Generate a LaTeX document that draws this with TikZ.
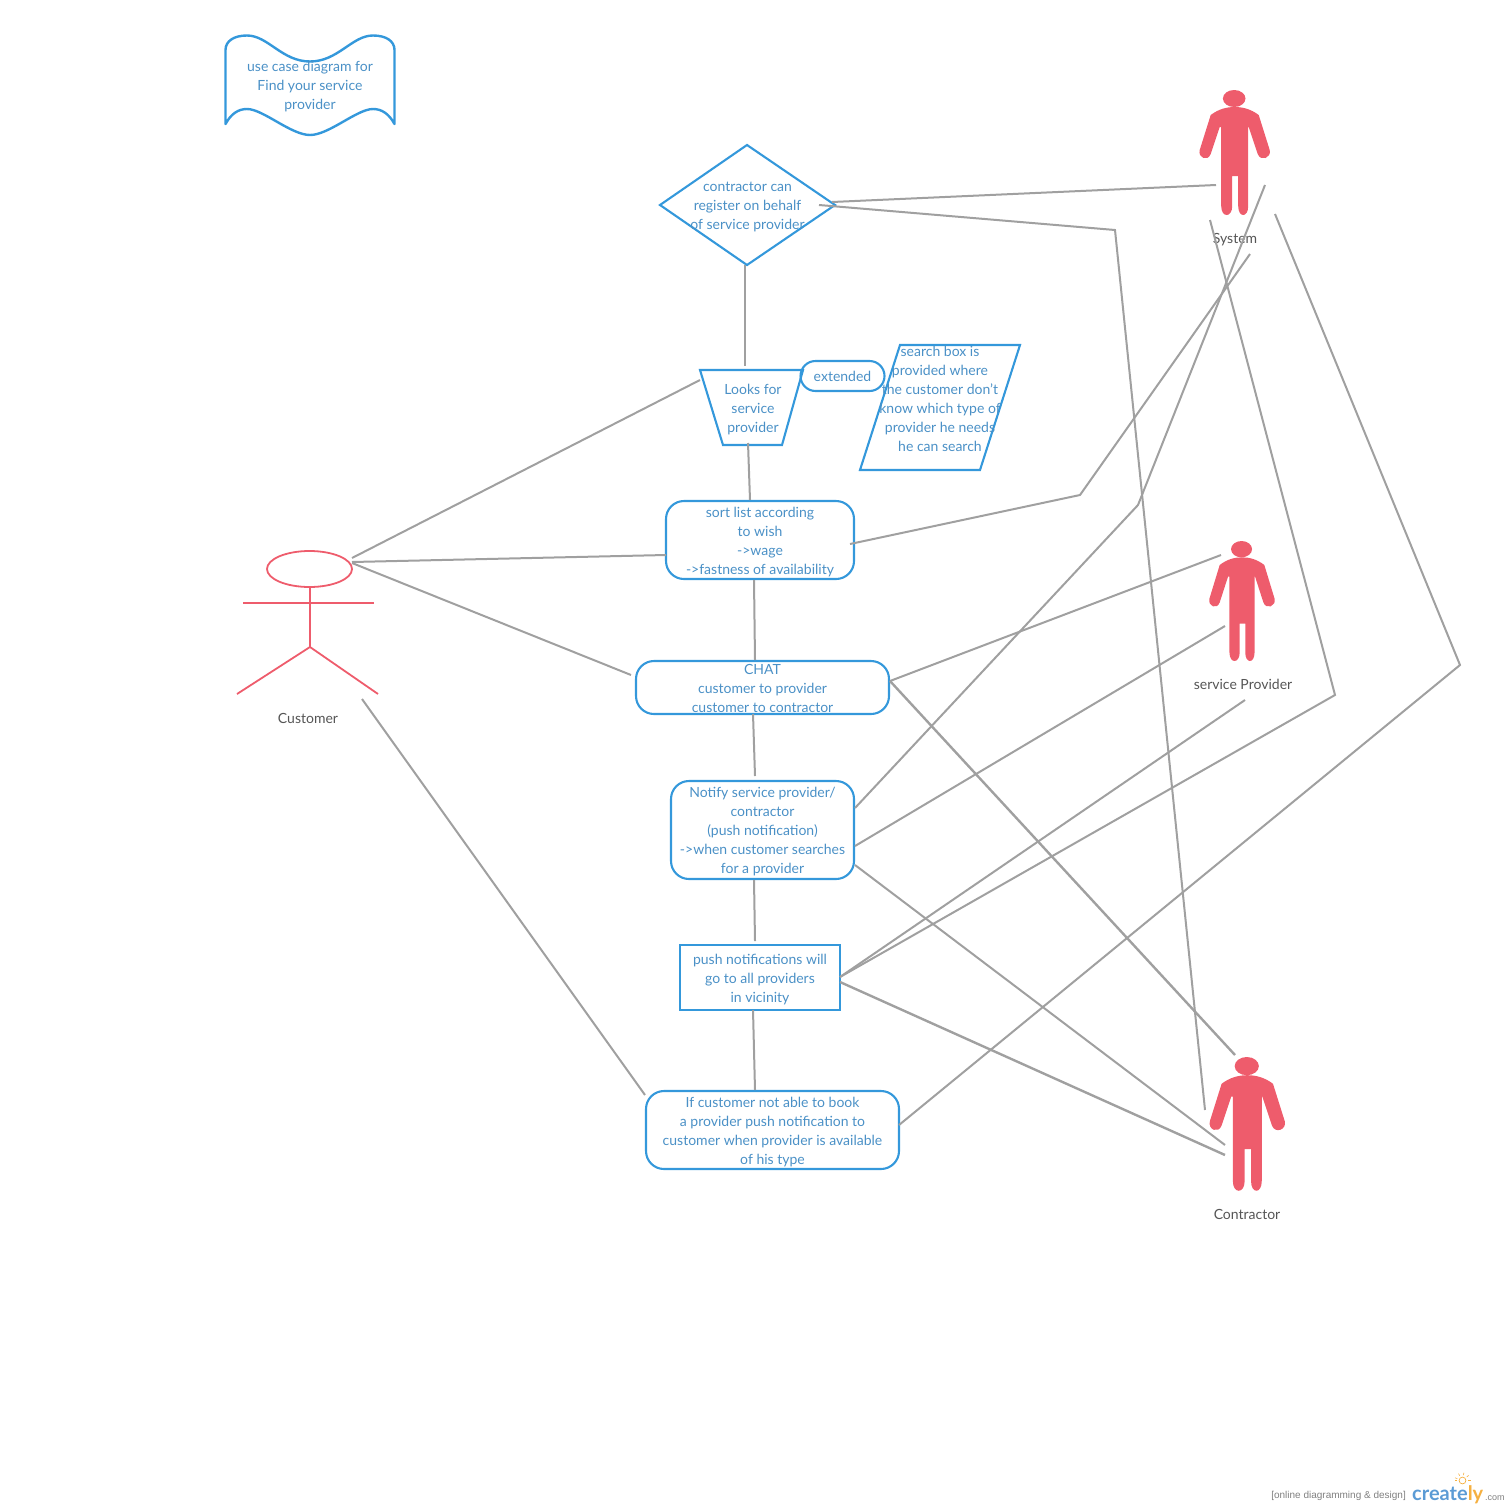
\documentclass[tikz,border=0pt]{standalone}
\usepackage{fontspec}
\setmainfont{Lato}
\newfontfamily\arialish{Liberation Sans}
\definecolor{bluel}{HTML}{3498DB}
\definecolor{bluet}{HTML}{4A90C6}
\definecolor{redl}{HTML}{EE5C6C}
\definecolor{grayl}{HTML}{A0A0A0}
\definecolor{grayt}{HTML}{555555}
\definecolor{logob}{HTML}{5B9BD5}
\definecolor{logoo}{HTML}{F5B041}
\newcommand{\firstln}{\rule{0pt}{14pt}}
\newcommand{\lastln}{\rule[-3pt]{0pt}{3pt}}
\tikzset{
  boxtext/.style={text=bluet,font=\fontsize{14}{19}\selectfont,align=center,inner sep=0pt,outer sep=0pt},
  bluebox/.style={boxtext,draw=bluel,line width=2.1pt,minimum width=#1},
  ruse/.style={rounded corners=18pt},
  bluepath/.style={draw=bluel,line width=2.1pt,line join=miter},
  actor/.style={text=grayt,font=\fontsize{14}{19}\selectfont,inner sep=0pt},
  conn/.style={draw=grayl,line width=2pt},
  connb/.style={draw=grayl,line width=2.4pt},
  stick/.style={draw=redl,line width=1.8pt},
  person/.pic={
    \fill[redl] (-.5,8.5) ellipse [x radius=11.3,y radius=8.5];
    \fill[redl] (-24,25)
      .. controls (-16,19) and (-8,17) .. (0,17)
      .. controls (8,17) and (16,19) .. (24,25)
      -- (35,60) .. controls (37,68) and (26,72) .. (23,64)
      -- (14,37) -- (13.5,37) -- (13.5,116) .. controls (13.5,128) and (3.5,128) .. (3.5,116)
      -- (3.5,86) -- (-2.5,86) -- (-2.5,116) .. controls (-2.5,128) and (-13.5,128) .. (-13.5,116)
      -- (-13.5,37) -- (-15,37) -- (-24,64) .. controls (-27,72) and (-37,68) .. (-35,60) -- cycle;
  },
}
\begin{document}
\begin{tikzpicture}[x=1pt,y=-1pt]
\useasboundingbox (0,0) rectangle (1510,1510);
% connector end points
\foreach \n/\x/\y in {
 a1/832/202,a2/1216/185,
 b1/819/205,b2/1115/230,b3/1205/1110,
 c1/745/265,c2/745/366,
 d1/748/443,d2/750/500,
 e1/700/380,e2/352/558,
 f1/352/562,f2/666/555,
 g1/352/563,g2/631/675,
 h1/850/544,h2/1080/495,h3/1250/254,
 i1/754/580,i2/755/660,
 j1/753/714,j2/755/776,
 k1/754/880,k2/755/941,
 l1/753/1010,l2/755/1090,
 m1/890/681,m2/1221/555,
 n1/890/681,n2/1235/1055,
 o1/855/808,o2/1138/505,o3/1265/185,
 p1/855/846,p2/1225/626,
 q1/855/865,q2/1225/1145,
 r1/840/977,r2/1245/700,
 s1/840/977,s2/1335/695,s3/1210/220,
 t1/840/982,t2/1225/1155,
 u1/899/1125,u2/1460/665,u3/1275/214,
 v1/362/699,v2/645/1095}{\coordinate (\n) at (\x,\y);}
% title banner
\draw[bluepath,line width=2.4pt,line join=round] (225.5,124)
  .. controls (231,114) and (238,109) .. (247,109)
  .. controls (263,109) and (291,135) .. (310,135)
  .. controls (329,135) and (357,109) .. (373,109)
  .. controls (382,109) and (389,114) .. (394.5,124)
  -- (394.5,50) .. controls (394.5,41) and (386,35.5) .. (373,35.5)
  .. controls (352,35.5) and (338,61.5) .. (310,61.5)
  .. controls (282,61.5) and (268,35.5) .. (247,35.5)
  .. controls (234,35.5) and (225.5,41) .. (225.5,50) -- cycle;
\node[boxtext] (title) at (310,85) {\firstln use case diagram for\\Find your service\\provider\lastln};
% decision
\draw[bluepath] (747,145) -- (835,205) -- (747,265) -- (660,205) -- cycle;
\node[boxtext] (decide) at (747.5,205) {\firstln contractor can\\register on behalf\\of service provider\lastln};
% trapezoid
\draw[bluepath] (700,370) -- (803,370) -- (782,445) -- (723,445) -- cycle;
\node[boxtext] (looks) at (753,408) {\firstln Looks for\\service\\provider\lastln};
% parallelogram
\draw[bluepath] (900,345) -- (1020,345) -- (980,470) -- (860,470) -- cycle;
\node[boxtext] (search) at (940,398.5) {\firstln search box is\\provided where\\the customer don't\\know which type of\\provider he needs\\he can search\lastln};
% extended
\node[bluebox=84pt,minimum height=30pt,rounded corners=15pt] (ext) at (842.5,376) {extended};
% rounded boxes
\node[bluebox=188pt,minimum height=78pt,ruse] (sort) at (760,540) {\firstln sort list according\\to wish\\->wage\\->fastness of availability\lastln};
\node[bluebox=253pt,minimum height=53pt,ruse] (chat) at (762.5,687.5) {\rule{0pt}{12pt}CHAT\\customer to provider\\customer to contractor};
\node[bluebox=183pt,minimum height=98pt,ruse] (notify) at (762.5,830) {\firstln Notify service provider/\\contractor\\(push notification)\\->when customer searches\\for a provider\lastln};
\node[bluebox=160pt,minimum height=65pt] (push) at (760,977.5) {\firstln push notifications will\\go to all providers\\in vicinity\lastln};
\node[bluebox=253pt,minimum height=78pt,ruse] (book) at (772.5,1130) {\firstln If customer not able to book\\a provider push notification to\\customer when provider is available\\of his type\lastln};
% customer
\draw[stick] (309.5,569) ellipse [x radius=42.5,y radius=18];
\draw[stick] (243,603) -- (374,603);
\draw[stick] (310,587) -- (310,647);
\draw[stick] (237,694) -- (310,647) -- (378,694);
\node[actor] (customer) at (308,718) {Customer};
% persons
\pic at (1234.7,90) {person};
\node[actor] (system) at (1235,239.5) {System};
\pic[xscale=.93,yscale=.96] at (1242,541) {person};
\node[actor] (provider) at (1243,684) {service Provider};
\pic[xscale=1.07,yscale=1.07] at (1247.3,1057) {person};
\node[actor] (contractor) at (1247,1214) {Contractor};
% connectors
\draw[conn] (a1) -- (a2);
\draw[conn] (b1) -- (b2) -- (b3);
\draw[conn] (c1) -- (c2);
\draw[conn] (d1) -- (d2);
\draw[conn] (e1) -- (e2);
\draw[conn] (f1) -- (f2);
\draw[conn] (g1) -- (g2);
\draw[conn] (h1) -- (h2) -- (h3);
\draw[conn] (i1) -- (i2);
\draw[conn] (j1) -- (j2);
\draw[conn] (k1) -- (k2);
\draw[conn] (l1) -- (l2);
\draw[conn] (m1) -- (m2);
\draw[connb] (n1) -- (n2);
\draw[conn] (o1) -- (o2) -- (o3);
\draw[conn] (p1) -- (p2);
\draw[conn] (q1) -- (q2);
\draw[conn] (r1) -- (r2);
\draw[conn] (s1) -- (s2) -- (s3);
\draw[connb] (t1) -- (t2);
\draw[conn] (u1) -- (u2) -- (u3);
\draw[conn] (v1) -- (v2);
% logo
\node[anchor=base east,inner sep=0pt,text=gray,font=\arialish\fontsize{10}{11}\selectfont] (tag) at (1406,1498.5) {[online diagramming \& design]};
\node[anchor=base west,inner sep=0pt,font=\bfseries\fontsize{20}{24}\selectfont] (logo) at (1412,1500) {\textcolor{logob}{create}\textcolor{logoo}{ly}};
\node[anchor=base west,inner sep=0pt,text=gray,font=\arialish\fontsize{9}{10}\selectfont] (dotcom) at (1485,1500) {.com};
\draw[logoo,line width=.7pt] (1462.5,1480.5) circle (3.4pt);
\foreach \a in {20,60,100,140,180,0}{\draw[logoo,line width=.6pt] (1462.5,1480.5) ++(\a:-5.5) -- ++(\a:-2.5);}
\end{tikzpicture}
\end{document}
